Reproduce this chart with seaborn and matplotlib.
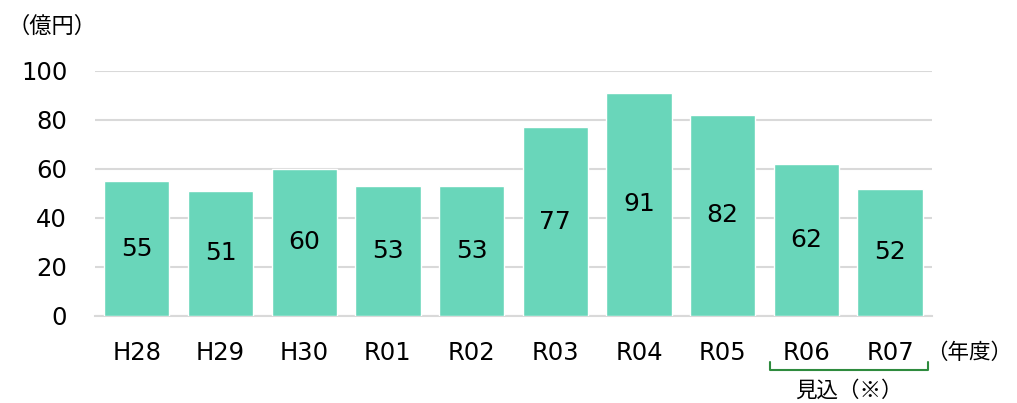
import matplotlib
matplotlib.use("Agg")
import matplotlib.pyplot as plt
import matplotlib.transforms as mtransforms
import pandas as pd
import seaborn as sns

# data
years = ["H28", "H29", "H30", "R01", "R02", "R03", "R04", "R05", "R06", "R07"]
amounts = [55, 51, 60, 53, 53, 77, 91, 82, 62, 52]
y_ticks = [0, 20, 40, 60, 80, 100]

bar_color = "#69D6BA"
grid_color = "#D9D9D9"
cjk = ["Noto Sans CJK JP", "DejaVu Sans"]

sns.set_style("white")
plt.rcParams["font.family"] = ["DejaVu Sans", "Noto Sans CJK JP"]
plt.rcParams["text.color"] = "black"

df = pd.DataFrame({"year": years, "amount": amounts})

fig = plt.figure(figsize=(10.17, 4.03), dpi=100)
ax = fig.add_axes([0.0934, 0.216, 0.823, 0.608])

sns.barplot(data=df, x="year", y="amount", color=bar_color, width=0.78,
            saturation=1, ax=ax, zorder=3)

ax.set_ylim(0, 100)
ax.set_yticks(y_ticks)
ax.set_xlim(-0.5, len(years) - 0.5)
ax.yaxis.grid(True, color=grid_color, linewidth=1.5, zorder=0)
ax.set_axisbelow(True)
for s in ["top", "right", "left"]:
    ax.spines[s].set_visible(False)
ax.spines["bottom"].set_color(grid_color)
ax.spines["bottom"].set_linewidth(1.5)
ax.tick_params(axis="both", length=0, labelsize=17.5, colors="black")
ax.tick_params(axis="x", pad=18)
ax.tick_params(axis="y", pad=20)
ax.set_xlabel("")
ax.set_ylabel("")

# value labels in the middle of each bar
for i, v in enumerate(amounts):
    ax.text(i, v / 2, str(v), ha="center", va="center", fontsize=18,
            color="black", zorder=4)

# unit labels
fig.text(0.007, 0.935, "（億円）", fontsize=16, ha="left", va="center",
         family=cjk)
fig.text(0.995, 0.125, "（年度）", fontsize=15.5, ha="right", va="center",
         family=cjk)

# bracket under R06-R07
tr = mtransforms.blended_transform_factory(ax.transData, ax.transAxes)
x0, x1 = 7.57, 9.45
yb, yt = -0.222, -0.188
ax.plot([x0, x0, x1, x1], [yt, yb, yb, yt], transform=tr, color="#2E8B3E",
        linewidth=1.5, clip_on=False)
ax.text((x0 + x1) / 2, -0.305, "見込（※）", transform=tr, fontsize=15.5,
        ha="center", va="center", family=cjk)

fig.savefig("out.png", dpi=100)
